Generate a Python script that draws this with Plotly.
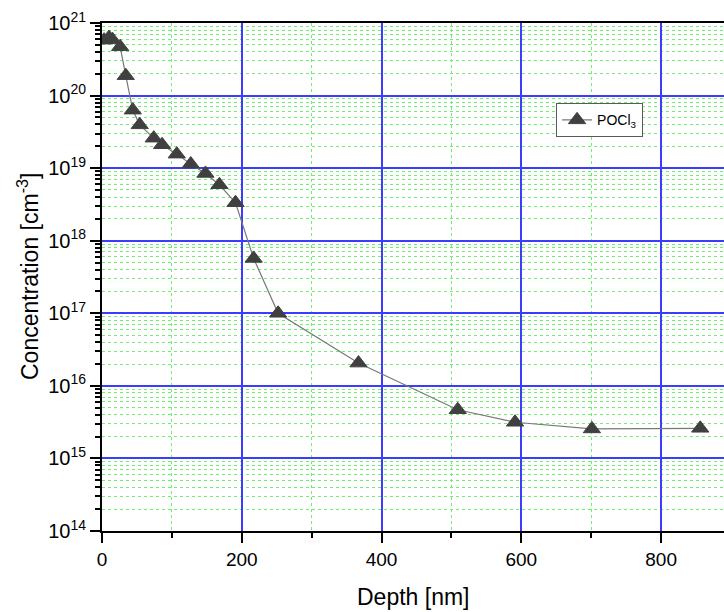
import plotly.graph_objects as go

# Phosphorus depth profile after POCl3 diffusion
depth_nm = [3, 10, 15, 26, 34, 44, 54, 74, 86, 107, 127, 148, 168, 191,
            217, 252, 367, 509, 591, 701, 856]
conc_cm3 = [5.8e20, 6.3e20, 5.9e20, 4.7e20, 1.88e20, 6.3e19, 3.95e19,
            2.59e19, 2.1e19, 1.56e19, 1.14e19, 8.45e18, 5.9e18, 3.34e18,
            5.7e17, 1.0e17, 2.06e16, 4.69e15, 3.15e15, 2.55e15, 2.6e15]

series_name = "POCl<sub>3</sub>"
y_exponents = [14, 15, 16, 17, 18, 19, 20, 21]
x_ticks = [0, 200, 400, 600, 800]
x_minor = [100, 300, 500, 700]
y_minor_digits = [2, 3, 4, 5, 6, 7, 8, 9]

FONT = "Arial, Liberation Sans, sans-serif"
GRID_MAJOR = "rgb(60,60,255)"
GRID_MINOR = "rgb(110,240,110)"

y_minor = [d * 10.0 ** e for e in y_exponents[:-1] for d in y_minor_digits]

fig = go.Figure()
fig.add_trace(go.Scatter(
    x=depth_nm, y=conc_cm3, name=series_name, mode="lines+markers",
    line=dict(color="rgb(120,120,120)", width=1.2),
    marker=dict(symbol="triangle-up", size=15, color="rgb(64,64,64)",
                line=dict(color="rgb(64,64,64)", width=1)),
    showlegend=True,
))

fig.update_layout(
    width=724, height=612,
    margin=dict(l=102, r=0, t=23, b=81),
    paper_bgcolor="white", plot_bgcolor="white",
    font=dict(family=FONT, color="black"),
    legend=dict(
        x=0.73, y=0.842, xanchor="left", yanchor="top",
        bgcolor="white", bordercolor="rgb(90,90,90)", borderwidth=1,
        font=dict(family=FONT, size=14, color="black"),
        itemwidth=30, tracegroupgap=0,
    ),
    xaxis=dict(
        range=[0, 890], tickmode="array", tickvals=x_ticks,
        ticktext=[str(v) for v in x_ticks],
        ticks="outside", ticklen=10, tickwidth=2, tickcolor="black",
        showline=True, linecolor="black", linewidth=2, mirror=True,
        showgrid=True, gridcolor=GRID_MAJOR, gridwidth=1.5,
        zeroline=False, layer="below traces",
        tickfont=dict(family=FONT, size=19, color="black"),
        minor=dict(tickmode="array", tickvals=x_minor, ticks="outside",
                   ticklen=5, tickwidth=1.5, tickcolor="black",
                   showgrid=True, gridcolor=GRID_MINOR, gridwidth=1,
                   griddash="dot"),
    ),
    yaxis=dict(
        type="log", range=[14, 21], tickmode="array",
        tickvals=[10.0 ** e for e in y_exponents],
        ticktext=["10<sup>%d</sup>" % e for e in y_exponents],
        ticks="outside", ticklen=10, tickwidth=2, tickcolor="black",
        showline=True, linecolor="black", linewidth=2, mirror=False,
        showgrid=True, gridcolor=GRID_MAJOR, gridwidth=1.5,
        zeroline=False,
        tickfont=dict(family=FONT, size=20, color="black"),
        minor=dict(tickmode="array", tickvals=y_minor, ticks="outside",
                   ticklen=5, tickwidth=1.5, tickcolor="black",
                   showgrid=True, gridcolor=GRID_MINOR, gridwidth=1,
                   griddash="dot"),
    ),
    annotations=[
        dict(text="Depth [nm]", xref="paper", yref="paper", x=0.5, y=0,
             yshift=-66, xanchor="center", yanchor="middle", showarrow=False,
             font=dict(family=FONT, size=23, color="black")),
        dict(text="Concentration [cm<sup>-3</sup>]", xref="paper",
             yref="paper", x=0, y=0.5, xshift=-74, xanchor="center",
             yanchor="middle", textangle=-90, showarrow=False,
             font=dict(family=FONT, size=23, color="black")),
    ],
)

fig.write_html("out.html")
